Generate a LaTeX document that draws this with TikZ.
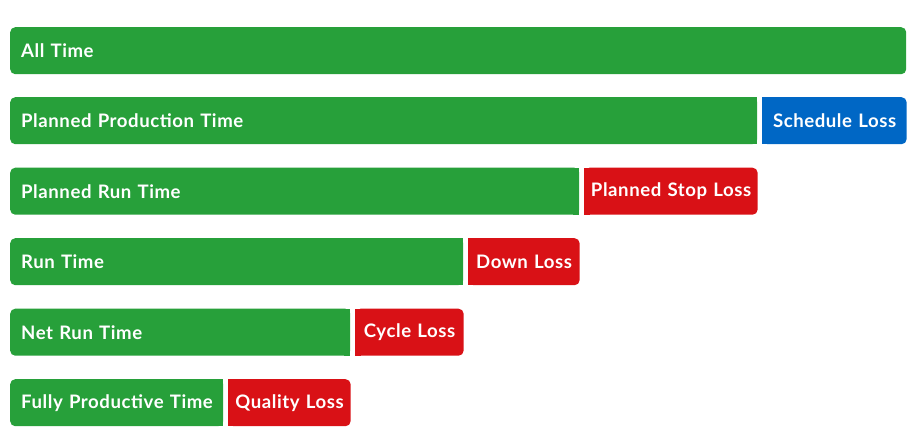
\documentclass[tikz,border=0pt]{standalone}
\usepackage{fontspec}
\setmainfont{Lato}
\usetikzlibrary{positioning,backgrounds}
\definecolor{timegreen}{RGB}{39,160,58}
\definecolor{lossred}{RGB}{217,17,22}
\definecolor{lossblue}{RGB}{0,103,197}
\begin{document}
\begin{tikzpicture}[x=1pt, y=-1pt]
\tikzset{every node/.style={rectangle, rounded corners=5pt, inner ysep=0pt,
                            minimum height=47pt, text=white,
                            font=\fontsize{18.6}{20}\bfseries\addfontfeatures{LetterSpace=3}},
         timebar/.style={fill=timegreen, anchor=north west, inner xsep=11pt, align=left},
         lossbox/.style={inner xsep=0pt, align=center, right=5pt of #1}}
\useasboundingbox (0,0) rectangle (916,447);
% time bars
\node[timebar, text width=874pt] (all) at (10,27) {All Time};
\node[timebar, text width=725pt] (ppt) at (10,97) {Planned Production Time};
\node[timebar, text width=547pt] (prt) at (10,167.5) {Planned Run Time};
\node[timebar, text width=431pt] (rt) at (10,238) {Run Time};
\node[timebar, text width=318pt] (nrt) at (10,308.5) {Net Run Time};
\node[timebar, text width=191pt] (fpt) at (10,379) {Fully Productive Time};
% losses
\node[lossbox=ppt, fill=lossblue, text width=144pt] (sched) {Schedule Loss};
\node[lossbox=prt, fill=lossred, text width=173pt] (stop) {Planned Stop Loss};
\node[lossbox=rt, fill=lossred, text width=111pt] (down) {Down Loss};
\node[lossbox=nrt, fill=lossred, text width=108pt] (cycle) {Cycle Loss};
\node[lossbox=fpt, fill=lossred, text width=122pt] (quality) {Quality Loss};
% square off the joined sides
\begin{scope}[on background layer]
\foreach \g in {ppt,prt,rt,nrt,fpt}
  \fill[timegreen] ([xshift=-6pt]\g.north east) rectangle (\g.south east);
\fill[lossblue] (sched.north west) rectangle ([xshift=6pt]sched.south west);
\foreach \l in {stop,down,cycle,quality}
  \fill[lossred] (\l.north west) rectangle ([xshift=6pt]\l.south west);
\end{scope}
\end{tikzpicture}
\end{document}
